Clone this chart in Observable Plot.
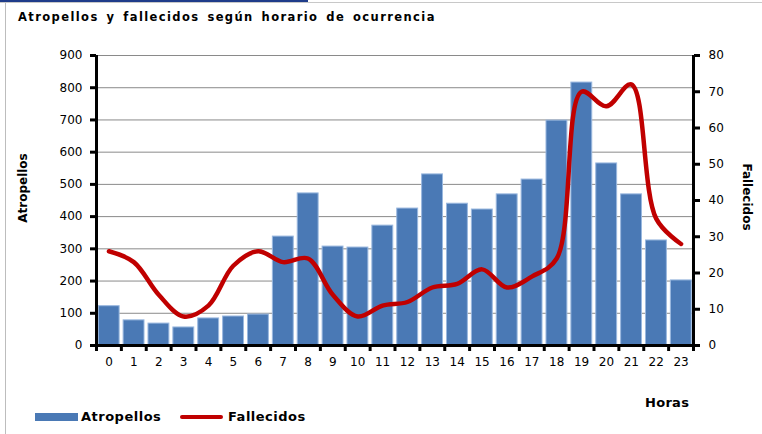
<!DOCTYPE html>
<html><head><meta charset="utf-8">
<script src="https://cdn.jsdelivr.net/npm/d3@7"></script>
<script src="https://cdn.jsdelivr.net/npm/@observablehq/plot@0.6"></script>
<style>
body{margin:0;background:#fff;font-family:"DejaVu Sans",Verdana,sans-serif;}
#wrap{position:relative;width:762px;height:434px;overflow:hidden;background:#fff;}
#wrap svg{position:absolute;left:0;top:0;}
.t{position:absolute;font-weight:bold;color:#000;white-space:nowrap;}
</style></head>
<body>
<div id="wrap"></div>
<script>
const horas = d3.range(0, 24);
const atropellos = [122, 78, 68, 56, 84, 90, 96, 338, 472, 307, 304, 372, 425, 531, 440, 422, 469, 515, 698, 816, 565, 469, 326, 202];
const fallecidos = [26, 23, 14, 8, 11, 22, 26, 23, 24, 14, 8, 11, 12, 16, 17, 21, 16, 19, 24, 70, 66, 72, 35, 28];
const leftTicks = d3.range(0, 901, 100);
const rightTicks = d3.range(0, 81, 10);
const title = "Atropellos y fallecidos según horario de ocurrencia";

const maxA = 900, maxF = 80;
const data = horas.map((h, i) => ({h, a: atropellos[i], f: fallecidos[i]}));
const fs = 12;

const chart = Plot.plot({
  width: 762, height: 434,
  marginLeft: 96, marginRight: 69, marginTop: 55, marginBottom: 89,
  style: {fontFamily: "DejaVu Sans, Verdana, sans-serif", fontSize: fs + "px", background: "transparent", color: "#000"},
  x: {domain: [-0.5, 23.5], axis: null},
  y: {domain: [0, maxA], axis: null},
  marks: [
    Plot.gridY(leftTicks.slice(1), {stroke: "#8a8a8a", strokeOpacity: 1, strokeWidth: 1}),
    Plot.rectY(data, {x1: d => d.h - 0.41, x2: d => d.h + 0.43, y: "a", fill: "#4a79b5", stroke: "#9ab8df", strokeWidth: 1}),
    Plot.line(data, {x: "h", y: d => d.f * maxA / maxF, curve: "catmull-rom", stroke: "#c00000", strokeWidth: 4.5, strokeLinecap: "round", strokeLinejoin: "round"}),
    Plot.ruleX([-0.5, 23.5], {stroke: "#000", strokeWidth: 3}),
    Plot.ruleY([0], {stroke: "#000", strokeWidth: 3}),
    Plot.axisY({ticks: leftTicks, tickSize: 6, tickPadding: 8, strokeWidth: 3, label: null, fontSize: fs, letterSpacing: "0.8px"}),
    Plot.axisY({anchor: "right", ticks: rightTicks.map(v => v * maxA / maxF), tickFormat: d => Math.round(d * maxF / maxA), tickSize: 6, tickPadding: 9, strokeWidth: 3, label: null, fontSize: fs, letterSpacing: "0.8px"}),
    Plot.axisX({ticks: d3.range(-0.5, 24, 1), tickFormat: () => "", tickSize: 6, strokeWidth: 3, label: null}),
    Plot.axisX({ticks: horas, tickSize: 0, tickPadding: 12, label: null, fontSize: fs, letterSpacing: "0.8px"})
  ]
});

const wrap = document.getElementById("wrap");
wrap.appendChild(chart);

function addDiv(txt, css) {
  const d = document.createElement("div");
  d.className = "t";
  d.textContent = txt;
  Object.assign(d.style, css);
  wrap.appendChild(d);
  return d;
}
// frame
const fr = (css) => { const d = document.createElement("div"); Object.assign(d.style, {position: "absolute"}, css); wrap.appendChild(d); };
fr({left: "5px", top: "3px", width: "1px", height: "431px", background: "#bdbdbd"});
fr({left: "0px", top: "2px", width: "762px", height: "1px", background: "#c8c8c8"});
fr({left: "0px", top: "0px", width: "308px", height: "2px", background: "#1f3c8a"});

addDiv(title, {left: "18px", top: "10px", fontSize: "11.5px", letterSpacing: "1.4px", wordSpacing: "2.5px"});
addDiv("Atropellos", {left: "23px", top: "188px", fontSize: "12px", transform: "translate(-50%,-50%) rotate(-90deg)"});
addDiv("Fallecidos", {left: "747px", top: "197px", fontSize: "12px", transform: "translate(-50%,-50%) rotate(90deg)"});
addDiv("Horas", {left: "645px", top: "395px", fontSize: "13px", letterSpacing: "0.3px"});
// legend
fr({left: "35px", top: "413px", width: "43px", height: "8px", background: "#4a79b5"});
addDiv("Atropellos", {left: "81px", top: "409px", fontSize: "13px", letterSpacing: "0.5px"});
fr({left: "180px", top: "415px", width: "43px", height: "4px", background: "#c00000", borderRadius: "2px"});
addDiv("Fallecidos", {left: "228px", top: "409px", fontSize: "13px", letterSpacing: "0.5px"});
</script>
</body></html>
